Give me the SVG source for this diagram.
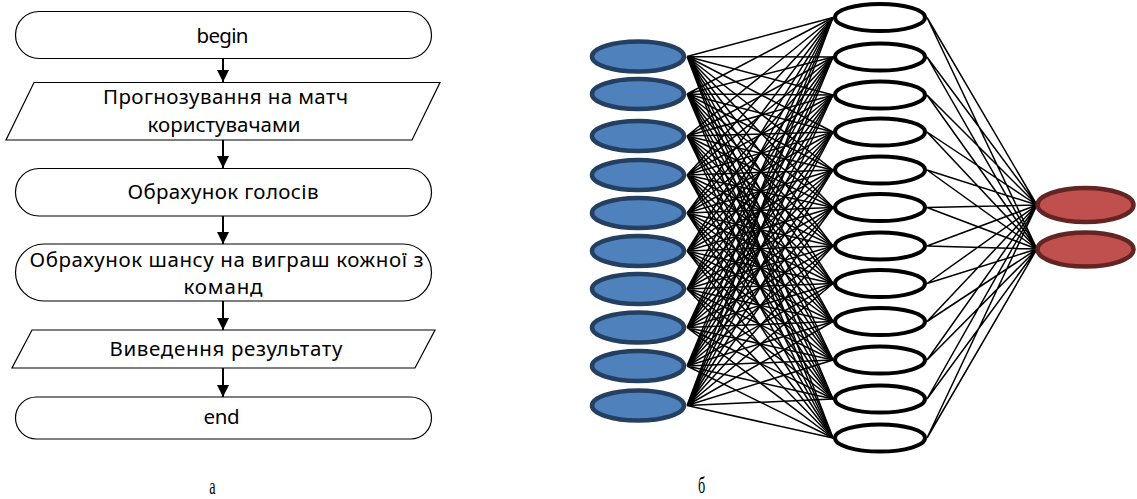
<svg xmlns="http://www.w3.org/2000/svg" width="1137" height="499" viewBox="0 0 1137 499">
<defs>
<style>
.fc{fill:#fff;stroke:#000;stroke-width:1.2}
.t{font-family:"Noto Sans","DejaVu Sans",sans-serif;font-size:20.5px;fill:#000;text-anchor:middle}
.ar{stroke:#000;stroke-width:2;fill:none}
.cap{font-family:"Liberation Serif","Times New Roman",serif;font-size:23px;fill:#000;text-anchor:middle}
.in{fill:#4F81BD;stroke:#243F60;stroke-width:4.5}
.hid{fill:#fff;stroke:#000;stroke-width:4}
.out{fill:#C0504D;stroke:#632523;stroke-width:4.5}
.ln{stroke:#000;stroke-width:1.5;fill:none}
</style>
<marker id="ah" markerUnits="userSpaceOnUse" markerWidth="13" markerHeight="12" refX="12" refY="6" orient="auto">
<path d="M0,0 L12,6 L0,12 Z" fill="#000"/>
</marker>
</defs>

<g id="connectors">
<g id="flow-arrows">
<line class="ar" x1="223" y1="59" x2="223" y2="82" marker-end="url(#ah)"/>
<line class="ar" x1="223" y1="140" x2="223" y2="168" marker-end="url(#ah)"/>
<line class="ar" x1="223" y1="216" x2="223" y2="244" marker-end="url(#ah)"/>
<line class="ar" x1="223" y1="301" x2="223" y2="330" marker-end="url(#ah)"/>
<line class="ar" x1="223" y1="368" x2="223" y2="397" marker-end="url(#ah)"/>
</g>
<g id="nn-lines">
<path class="ln" d="M687 56.5L833 17.5M687 56.5L833 57M687 56.5L833 95M687 56.5L833 132M687 56.5L833 170M687 56.5L833 207.5M687 56.5L833 246M687 56.5L833 283.5M687 56.5L833 321.5M687 56.5L833 360M687 56.5L833 399M687 56.5L833 438"/>
<path class="ln" d="M687 94L833 17.5M687 94L833 57M687 94L833 95M687 94L833 132M687 94L833 170M687 94L833 207.5M687 94L833 246M687 94L833 283.5M687 94L833 321.5M687 94L833 360M687 94L833 399M687 94L833 438"/>
<path class="ln" d="M687 136L833 17.5M687 136L833 57M687 136L833 95M687 136L833 132M687 136L833 170M687 136L833 207.5M687 136L833 246M687 136L833 283.5M687 136L833 321.5M687 136L833 360M687 136L833 399M687 136L833 438"/>
<path class="ln" d="M687 175L833 17.5M687 175L833 57M687 175L833 95M687 175L833 132M687 175L833 170M687 175L833 207.5M687 175L833 246M687 175L833 283.5M687 175L833 321.5M687 175L833 360M687 175L833 399M687 175L833 438"/>
<path class="ln" d="M687 213L833 17.5M687 213L833 57M687 213L833 95M687 213L833 132M687 213L833 170M687 213L833 207.5M687 213L833 246M687 213L833 283.5M687 213L833 321.5M687 213L833 360M687 213L833 399M687 213L833 438"/>
<path class="ln" d="M687 251L833 17.5M687 251L833 57M687 251L833 95M687 251L833 132M687 251L833 170M687 251L833 207.5M687 251L833 246M687 251L833 283.5M687 251L833 321.5M687 251L833 360M687 251L833 399M687 251L833 438"/>
<path class="ln" d="M687 289L833 17.5M687 289L833 57M687 289L833 95M687 289L833 132M687 289L833 170M687 289L833 207.5M687 289L833 246M687 289L833 283.5M687 289L833 321.5M687 289L833 360M687 289L833 399M687 289L833 438"/>
<path class="ln" d="M687 327.5L833 17.5M687 327.5L833 57M687 327.5L833 95M687 327.5L833 132M687 327.5L833 170M687 327.5L833 207.5M687 327.5L833 246M687 327.5L833 283.5M687 327.5L833 321.5M687 327.5L833 360M687 327.5L833 399M687 327.5L833 438"/>
<path class="ln" d="M687 366L833 17.5M687 366L833 57M687 366L833 95M687 366L833 132M687 366L833 170M687 366L833 207.5M687 366L833 246M687 366L833 283.5M687 366L833 321.5M687 366L833 360M687 366L833 399M687 366L833 438"/>
<path class="ln" d="M687 405.5L833 17.5M687 405.5L833 57M687 405.5L833 95M687 405.5L833 132M687 405.5L833 170M687 405.5L833 207.5M687 405.5L833 246M687 405.5L833 283.5M687 405.5L833 321.5M687 405.5L833 360M687 405.5L833 399M687 405.5L833 438"/>
<path class="ln" d="M927 17.5L1037 205M927 17.5L1037 249M927 57L1037 205M927 57L1037 249M927 95L1037 205M927 95L1037 249M927 132L1037 205M927 132L1037 249M927 170L1037 205M927 170L1037 249M927 207.5L1037 205M927 207.5L1037 249M927 246L1037 205M927 246L1037 249M927 283.5L1037 205M927 283.5L1037 249M927 321.5L1037 205M927 321.5L1037 249M927 360L1037 205M927 360L1037 249M927 399L1037 205M927 399L1037 249M927 438L1037 205M927 438L1037 249"/>
</g>
</g>

<g id="begin"><rect class="fc" x="15.5" y="11.5" width="416" height="47" rx="23.5"/><text class="t" x="222.5" y="43" textLength="52" lengthAdjust="spacing">begin</text></g>
<g id="input-forecast"><polygon class="fc" points="34,82.5 440,82.5 412,140 6,140"/><text class="t" x="225.5" y="104" textLength="245" lengthAdjust="spacing">Прогнозування на матч</text><text class="t" x="224" y="132" textLength="153" lengthAdjust="spacing">користувачами</text></g>
<g id="count-votes"><rect class="fc" x="15.5" y="168.5" width="416" height="47.5" rx="23.5"/><text class="t" x="223" y="199" textLength="191" lengthAdjust="spacing">Обрахунок голосів</text></g>
<g id="calc-chance"><rect class="fc" x="15.5" y="244" width="416" height="57" rx="28.5"/><text class="t" x="226.5" y="267" textLength="394" lengthAdjust="spacing">Обрахунок шансу на виграш кожної з</text><text class="t" x="223" y="294" textLength="79" lengthAdjust="spacing">команд</text></g>
<g id="output-result"><polygon class="fc" points="32,330 435,330 415,368 12,368"/><text class="t" x="226" y="356" textLength="233" lengthAdjust="spacing">Виведення результату</text></g>
<g id="end"><rect class="fc" x="15.5" y="397" width="416" height="42" rx="21"/><text class="t" x="221.5" y="424" textLength="36" lengthAdjust="spacing">end</text></g>

<g id="input-layer">
<ellipse class="in" cx="638" cy="56.5" rx="46" ry="15"/>
<ellipse class="in" cx="638" cy="94" rx="46" ry="15"/>
<ellipse class="in" cx="638" cy="136" rx="46" ry="15"/>
<ellipse class="in" cx="638" cy="175" rx="46" ry="15"/>
<ellipse class="in" cx="638" cy="213" rx="46" ry="15"/>
<ellipse class="in" cx="638" cy="251" rx="46" ry="15"/>
<ellipse class="in" cx="638" cy="289" rx="46" ry="15"/>
<ellipse class="in" cx="638" cy="327.5" rx="46" ry="15"/>
<ellipse class="in" cx="638" cy="366" rx="46" ry="15"/>
<ellipse class="in" cx="638" cy="405.5" rx="46" ry="15"/>
</g>
<g id="hidden-layer">
<ellipse class="hid" cx="880" cy="17.5" rx="45" ry="13.5"/>
<ellipse class="hid" cx="880" cy="57" rx="45" ry="13.5"/>
<ellipse class="hid" cx="880" cy="95" rx="45" ry="13.5"/>
<ellipse class="hid" cx="880" cy="132" rx="45" ry="13.5"/>
<ellipse class="hid" cx="880" cy="170" rx="45" ry="13.5"/>
<ellipse class="hid" cx="880" cy="207.5" rx="45" ry="13.5"/>
<ellipse class="hid" cx="880" cy="246" rx="45" ry="13.5"/>
<ellipse class="hid" cx="880" cy="283.5" rx="45" ry="13.5"/>
<ellipse class="hid" cx="880" cy="321.5" rx="45" ry="13.5"/>
<ellipse class="hid" cx="880" cy="360" rx="45" ry="13.5"/>
<ellipse class="hid" cx="880" cy="399" rx="45" ry="13.5"/>
<ellipse class="hid" cx="880" cy="438" rx="45" ry="13.5"/>
</g>
<g id="output-layer">
<ellipse class="out" cx="1085.5" cy="205" rx="48" ry="17"/>
<ellipse class="out" cx="1085.5" cy="249.5" rx="48" ry="17"/>
</g>

<g id="captions">
<text class="cap" transform="translate(212.5,494) scale(0.62,1)">а</text>
<text class="cap" transform="translate(701.5,493) scale(0.62,1)">б</text>
</g>
</svg>
